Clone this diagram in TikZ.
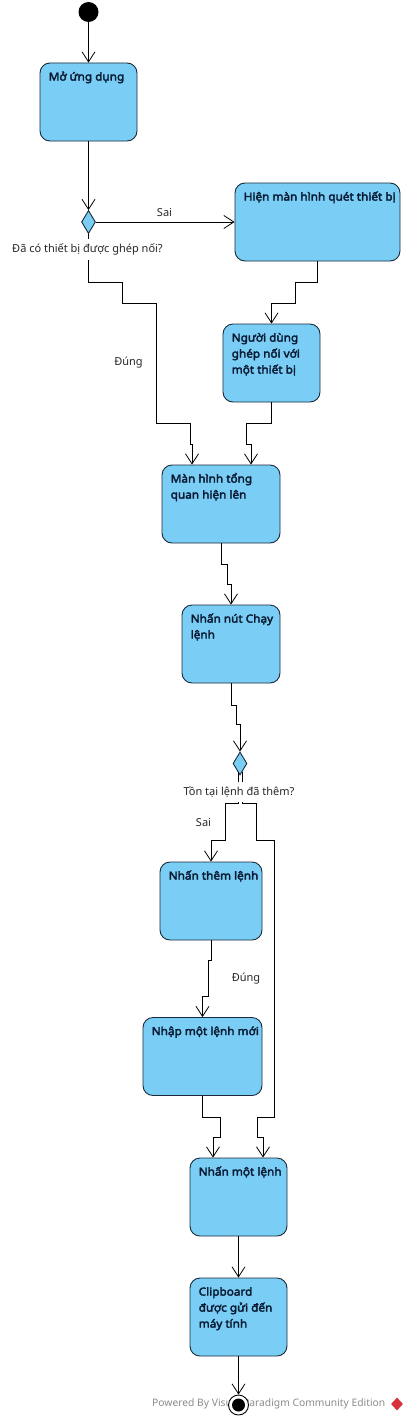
\documentclass[tikz,border=0pt]{standalone}
\usepackage{fontspec}
\setmainfont{Noto Sans}
\newfontfamily\actfont{Noto Sans}[FakeStretch=1.07, AutoFakeBold=3]
\usepackage{xcolor}
\usetikzlibrary{positioning}
\usetikzlibrary{calc}
\usetikzlibrary{shapes.geometric, arrows.meta}
\definecolor{actfill}{RGB}{122,206,245}
\definecolor{actdraw}{RGB}{27,42,58}
\definecolor{acttext}{RGB}{10,26,51}
\definecolor{guardtext}{RGB}{40,40,40}
\definecolor{vpgrey}{RGB}{140,140,140}
\definecolor{vpred}{RGB}{214,48,58}
\newcommand{\acttab}[1]{\begin{tabular}[t]{@{}l@{}}#1\end{tabular}}
\tikzstyle{act} = [rectangle, rounded corners=10pt, draw=actdraw, fill=actfill, line width=0.9pt, minimum height=78pt, inner sep=0pt]
\tikzstyle{acttxt} = [anchor=base west, inner sep=0pt, xshift=9pt, yshift=-18pt, text=acttext, font=\actfont\fontsize{11}{16}\selectfont\bfseries]
\tikzstyle{dec} = [diamond, draw=actdraw, fill=actfill, line width=0.9pt, minimum width=14pt, minimum height=23pt, inner sep=0pt]
\tikzstyle{guard} = [inner xsep=1pt, inner ysep=5pt, text=guardtext, font=\fontsize{11}{13}\selectfont]
\tikzstyle{arrow} = [line width=0.8pt, -{Straight Barb[length=10pt, width=13pt]}]

\begin{document}
\begin{tikzpicture}[x=1pt,y=-1pt]
\fill [white] (0,0) rectangle (405,1421);
\useasboundingbox (0,0) rectangle (405,1421);
\draw (88.5,12) node (init) [circle, fill=black, minimum size=20pt, inner sep=0pt] {};
\draw (88.5,102) node (open) [act, minimum width=97pt, label={[acttxt]north west:\acttab{Mở ứng dụng}}] {};
\draw (88.5,222) node (ispaired) [dec] {};
\draw (317.5,222) node (scan) [act, minimum width=165pt, label={[acttxt]north west:\acttab{Hiện màn hình quét thiết bị}}] {};
\draw (271.5,363) node (pair) [act, minimum width=97pt, label={[acttxt]north west:\acttab{Người dùng\\ghép nối với\\một thiết bị}}] {};
\draw (221,504) node (overview) [act, minimum width=118pt, label={[acttxt]north west:\acttab{Màn hình tổng\\quan hiện lên}}] {};
\draw (231,644) node (runbtn) [act, minimum width=98pt, label={[acttxt]north west:\acttab{Nhấn nút Chạy\\lệnh}}] {};
\draw (240,763.5) node (hascmd) [dec] {};
\draw (211,901) node (add) [act, minimum width=102pt, label={[acttxt]north west:\acttab{Nhấn thêm lệnh}}] {};
\draw (202.5,1056.5) node (newcmd) [act, minimum width=119pt, label={[acttxt]north west:\acttab{Nhập một lệnh mới}}] {};
\draw (238.5,1197) node (pick) [act, minimum width=97pt, label={[acttxt]north west:\acttab{Nhấn một lệnh}}] {};
\draw (238.5,1317) node (clip) [act, minimum width=97pt, label={[acttxt]north west:\acttab{Clipboard\\được gửi đến\\máy tính}}] {};
\draw[arrow] (init)--(open);
\draw[arrow] (open)--(ispaired);
\draw[arrow] (ispaired)--(scan); %Sai
\draw[arrow] (ispaired.south)--(88.5,282) -| (122,303) -| (156,423) -| (190,444) -| ([xshift=-29pt]overview.north); %Đúng
\draw[arrow] (scan.south) |- (295,282) |- (271.5,303)--(pair.north);
\draw[arrow] (pair.south) |- (246,423) |- (251,444)--([xshift=30pt]overview.north);
\draw[arrow] (overview.south) |- (227,564) |- (231,584)--(runbtn.north);
\draw[arrow] (runbtn.south) |- (236,705) |- (240,724)--(hascmd.north);
\draw[arrow] ([xshift=-2pt,yshift=3pt]hascmd.south) |- (225,803) |- (211,840)--(add.north); %Sai
\draw[arrow] ([xshift=2pt,yshift=3pt]hascmd.south) |- (256,803) |- (274,840) |- (257,1117) |- (263,1137)--([xshift=24.5pt]pick.north);
\draw[arrow] (add.south) |- (208,960) |- (202.5,996)--(newcmd.north); %Đúng
\draw[arrow] (newcmd.south) |- (220,1117) |- (213,1137)--([xshift=-25.5pt]pick.north);
\draw[arrow] (pick)--(clip);
\draw (164.5,212.5) node (saione) [guard] {Sai};
\draw (87.5,249.5) node (askpaired) [guard, fill=white] {Đã có thiết bị được ghép nối?};
\draw (128.5,363) node (dungone) [guard] {Đúng};
\draw (239,792) node (askcmd) [guard, fill=white] {Tồn tại lệnh đã thêm?};
\draw (203.5,822.5) node (saitwo) [guard] {Sai};
\draw (246,979) node (dungtwo) [guard] {Đúng};
\draw (152,1404) node (vp) [anchor=west, inner sep=0pt, text=vpgrey, font=\fontsize{10.3}{12}\selectfont] {Powered By Visual Paradigm Community Edition};
\draw (397,1404) node (vplogo) [diamond, fill=vpred, minimum width=12pt, minimum height=13pt, inner sep=0pt] {};
\draw (238.5,1405) node (final) [circle, draw=black, fill=white, line width=0.9pt, minimum size=20pt, inner sep=0pt] {};
\fill [black] (final.center) circle (6.5);
\draw[arrow] (clip)--(final);
\end{tikzpicture}
\end{document}
